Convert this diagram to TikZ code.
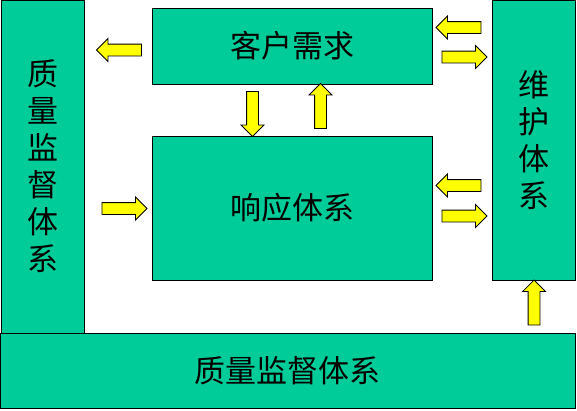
\documentclass[tikz,border=0pt]{standalone}
\usepackage{fontspec}
\newfontfamily\cjk{Noto Sans CJK SC}
\usepackage{tikz}
\usetikzlibrary{shapes.arrows}
\definecolor{boxgreen}{HTML}{00CC99}
\definecolor{arrowyellow}{HTML}{FFFF00}

\begin{document}
\begin{tikzpicture}[
      x=1pt, y=-1pt,
      font=\cjk\fontsize{31}{37}\selectfont,
      sys/.style={rectangle, draw=black, fill=boxgreen, line width=1pt,
                  align=center, inner sep=0pt},
      blk/.style={single arrow, draw=black, fill=arrowyellow, line width=0.8pt,
                  minimum height=45pt, inner sep=5.5pt,
                  single arrow head extend=5.5pt, single arrow head indent=0pt},
      lft/.style={blk, shape border rotate=180},
      rgt/.style={blk, shape border rotate=0},
      upw/.style={blk, shape border rotate=90},
      dwn/.style={blk, shape border rotate=270},
    ]
    \useasboundingbox (0,0) rectangle (577,410);

    % system boxes
    \node[sys, minimum width=83pt,  minimum height=333pt] (zlleft) at (42.5,166.5) {质\\量\\监\\督\\体\\系};
    \node[sys, minimum width=280pt, minimum height=76pt]  (kehu)   at (292,46)     {客户需求};
    \node[sys, minimum width=280pt, minimum height=144pt] (xiangy) at (292,208)    {响应体系};
    \node[sys, minimum width=83pt,  minimum height=280pt] (weihu)  at (533.5,140)  {维\\护\\体\\系};
    \node[sys, minimum width=575pt, minimum height=75pt]  (zlbot)  at (287.5,370.5) {质量监督体系};

    % block arrows
    \node[lft] (kh2zl) at (122,50)    {};
    \node[lft] (wh2kh) at (461.5,27.5) {};
    \node[rgt] (kh2wh) at (461.5,57)  {};
    \node[dwn] (kh2xy) at (252.5,111) {};
    \node[upw] (xy2kh) at (320.5,109) {};
    \node[rgt] (zl2xy) at (121.5,208.5) {};
    \node[lft] (wh2xy) at (461.5,185.5) {};
    \node[rgt] (xy2wh) at (461.5,216) {};
    \node[upw] (zl2wh) at (534,305.5) {};
  \end{tikzpicture}
\end{document}
